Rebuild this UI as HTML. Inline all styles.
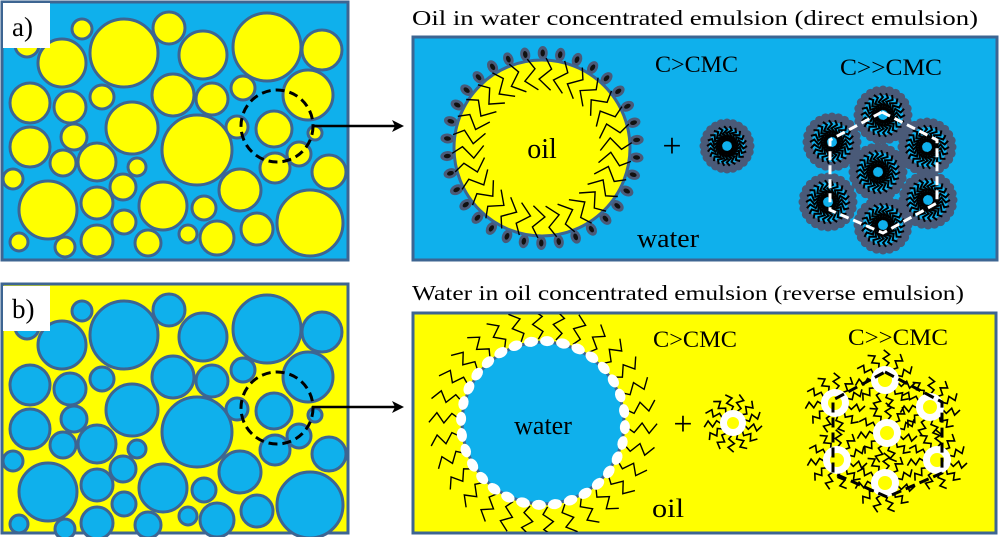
<!DOCTYPE html>
<html><head><meta charset="utf-8"><style>
html,body{margin:0;padding:0;background:#fff;width:1000px;height:537px;overflow:hidden}
svg{display:block}
text{font-family:"Liberation Serif","Times New Roman",serif;fill:#000}
</style></head><body>
<svg id="s" width="1000" height="537" viewBox="0 0 1000 537" xmlns="http://www.w3.org/2000/svg">
<defs>
<clipPath id="c1"><rect x="3" y="3" width="344" height="256"/></clipPath>
<g id="circ" stroke="#3d6592" stroke-width="3">
<circle cx="27" cy="45" r="12"/><circle cx="82" cy="29" r="10"/><circle cx="62" cy="63" r="24"/>
<circle cx="124" cy="53" r="34"/><circle cx="169" cy="28" r="16"/><circle cx="203" cy="55" r="24"/>
<circle cx="267" cy="47" r="34"/><circle cx="322" cy="50" r="20"/><circle cx="30" cy="103" r="20"/>
<circle cx="70" cy="107" r="16"/><circle cx="102" cy="97" r="12"/><circle cx="132" cy="128" r="26"/>
<circle cx="173" cy="95" r="21"/><circle cx="212" cy="99" r="16"/><circle cx="243" cy="88" r="12"/>
<circle cx="308" cy="95" r="25"/><circle cx="30" cy="147" r="20"/><circle cx="74" cy="137" r="13"/>
<circle cx="63" cy="163" r="13"/><circle cx="97" cy="162" r="19"/><circle cx="137" cy="167" r="9"/>
<circle cx="197" cy="150" r="35"/><circle cx="237" cy="127" r="11"/><circle cx="274" cy="129" r="18"/>
<circle cx="315" cy="133" r="7"/><circle cx="299" cy="154" r="12"/><circle cx="275" cy="168" r="15"/>
<circle cx="329" cy="172" r="17"/><circle cx="13" cy="179" r="10"/><circle cx="48" cy="210" r="29"/>
<circle cx="97" cy="203" r="16"/><circle cx="123" cy="187" r="13"/><circle cx="124" cy="222" r="12"/>
<circle cx="163" cy="206" r="24"/><circle cx="204" cy="208" r="12"/><circle cx="240" cy="190" r="21"/>
<circle cx="310" cy="223" r="33"/><circle cx="19" cy="242" r="9"/><circle cx="65" cy="247" r="10"/>
<circle cx="97" cy="241" r="16"/><circle cx="148" cy="243" r="13"/><circle cx="188" cy="234" r="9"/>
<circle cx="217" cy="238" r="17"/><circle cx="257" cy="229" r="16"/>
</g>
</defs>
<rect x="2" y="2" width="346" height="258" fill="#0fb0ec" stroke="#3d6592" stroke-width="3"/>
<g clip-path="url(#c1)"><use href="#circ" fill="#ffff00"/></g>
<rect x="3" y="3" width="47" height="45" fill="#fff"/>
<text x="12" y="36" font-size="27">a)</text>
<circle cx="277" cy="126" r="36" fill="none" stroke="#000" stroke-width="3" stroke-dasharray="9,5"/>
<line x1="313" y1="126" x2="396" y2="126" stroke="#000" stroke-width="2.5"/>
<polygon points="404,126 392,120 395,126 392,132" fill="#000"/>
<rect x="2" y="284" width="346" height="249" fill="#ffff00" stroke="#3d6592" stroke-width="3"/>
<g transform="translate(0,282)"><g clip-path="url(#c1)"><use href="#circ" fill="#0fb0ec"/></g></g>
<rect x="3" y="286" width="47" height="45" fill="#fff"/>
<text x="12" y="318" font-size="27">b)</text>
<circle cx="277" cy="408" r="36" fill="none" stroke="#000" stroke-width="3" stroke-dasharray="9,5"/>
<line x1="312" y1="407" x2="396" y2="407" stroke="#000" stroke-width="2.5"/>
<polygon points="404,407 392,401 395,407 392,413" fill="#000"/>

<text x="412" y="25" font-size="21" textLength="566" lengthAdjust="spacingAndGlyphs">Oil in water concentrated emulsion (direct emulsion)</text>
<text x="412" y="300" font-size="21" textLength="552" lengthAdjust="spacingAndGlyphs">Water in oil concentrated emulsion (reverse emulsion)</text>

<rect x="413" y="37" width="584" height="223" fill="#0fb0ec" stroke="#3d6592" stroke-width="3"/>
<rect x="413" y="313" width="583" height="220" fill="#ffff00" stroke="#3d6592" stroke-width="3"/>
<clipPath id="cb"><rect x="414" y="314" width="581" height="218"/></clipPath>

<g id="topdeco"></g>
<circle cx="542" cy="148" r="88" fill="#ffff00" stroke="#3d6592" stroke-width="3"/>
<g id="topdeco2"></g>
<text x="542" y="158" font-size="28" text-anchor="middle">oil</text>
<text x="672" y="157" font-size="34" text-anchor="middle">+</text>
<text x="655" y="72" font-size="23" textLength="83" lengthAdjust="spacingAndGlyphs">C&gt;CMC</text>
<text x="840" y="75" font-size="23" textLength="102" lengthAdjust="spacingAndGlyphs">C&gt;&gt;CMC</text>
<text x="637" y="247" font-size="26" textLength="62" lengthAdjust="spacingAndGlyphs">water</text>

<g id="botdeco" clip-path="url(#cb)"></g>
<circle cx="543" cy="423" r="81" fill="#0fb0ec" stroke="#3d6592" stroke-width="3"/>
<g id="botdeco2"></g>
<text x="543" y="434" font-size="26" text-anchor="middle">water</text>
<text x="683" y="435" font-size="34" text-anchor="middle">+</text>
<text x="653" y="347" font-size="23" textLength="84" lengthAdjust="spacingAndGlyphs">C&gt;CMC</text>
<text x="848" y="345" font-size="23" textLength="100" lengthAdjust="spacingAndGlyphs">C&gt;&gt;CMC</text>
<text x="652" y="517" font-size="26" textLength="32" lengthAdjust="spacingAndGlyphs">oil</text>
<g id="hexdeco"></g>
</svg>
<script>
var NS="http://www.w3.org/2000/svg";
function el(p,t,a){var e=document.createElementNS(NS,t);for(var k in a)e.setAttribute(k,a[k]);p.appendChild(e);return e;}
function zig(cx,cy,ang,r1,r2,n,amp){var pts=[];for(var i=0;i<=n;i++){var r=r1+(r2-r1)*i/n;var o=(i%2?amp:-amp)*(i==0?0:1);var x=cx+r*Math.cos(ang)-o*Math.sin(ang);var y=cy+r*Math.sin(ang)+o*Math.cos(ang);pts.push(x.toFixed(1)+","+y.toFixed(1));}return pts.join(" ");}
var g1=document.getElementById("topdeco"),g1b=document.getElementById("topdeco2");
for(var i=0;i<34;i++){var a=i/34*2*Math.PI+0.1;var x=542+95*Math.cos(a),y=148+95*Math.sin(a);var d=a*180/Math.PI;
el(g1,"ellipse",{cx:x,cy:y,rx:7,ry:5,fill:"#4a5a78",transform:"rotate("+d+" "+x+" "+y+")"});
el(g1,"ellipse",{cx:x,cy:y,rx:3.5,ry:2.2,fill:"#111",transform:"rotate("+d+" "+x+" "+y+")"});}
for(var i=0;i<30;i++){var a=i/30*2*Math.PI+0.15;el(g1b,"polyline",{points:zig(542,148,a,90,58,3,6),fill:"none",stroke:"#000","stroke-width":1.4});}
function mic(g,cx,cy,R){for(var i=0;i<24;i++){var a=i/24*2*Math.PI;el(g,"circle",{cx:cx+R*Math.cos(a),cy:cy+R*Math.sin(a),r:4.5,fill:"#4a5a78"});}
el(g,"circle",{cx:cx,cy:cy,r:R-1,fill:"#4a5a78"});el(g,"circle",{cx:cx,cy:cy,r:R-5,fill:"#0fb0ec"});
for(var i=0;i<22;i++){var a=i/22*2*Math.PI;el(g,"polyline",{points:zig(cx,cy,a,R-3,5,4,2.5),fill:"none",stroke:"#000","stroke-width":2});}}
mic(g1b,727,146,23);
var hx=document.getElementById("hexdeco");
[[883,115],[832,142],[927,147],[878,172],[828,202],[928,200],[883,225]].forEach(function(c){mic(hx,c[0],c[1],25);});
el(hx,"polygon",{points:"882,112 937,140 937,203 883,233 830,210 830,140",fill:"none",stroke:"#fff","stroke-width":3,"stroke-dasharray":"9,5"});
var g2=document.getElementById("botdeco"),g2b=document.getElementById("botdeco2");
for(var i=0;i<30;i++){var a=i/30*2*Math.PI+0.05;el(g2,"polyline",{points:zig(543,423,a,84,114,4,5),fill:"none",stroke:"#000","stroke-width":1.4});}
for(var i=0;i<32;i++){var a=i/32*2*Math.PI+0.05;var x=543+82*Math.cos(a),y=423+82*Math.sin(a);var d=a*180/Math.PI;
el(g2b,"ellipse",{cx:x,cy:y,rx:5,ry:7,fill:"#fff",transform:"rotate("+d+" "+x+" "+y+")"});}
function rmic(g,cx,cy,R,n){for(var i=0;i<n;i++){var a=i/n*2*Math.PI+0.2;el(g,"polyline",{points:zig(cx,cy,a,R,R+17,4,3),fill:"none",stroke:"#000","stroke-width":1.6});}
el(g,"circle",{cx:cx,cy:cy,r:R+1,fill:"#fff"});el(g,"circle",{cx:cx,cy:cy,r:R-6,fill:"#ffff00"});}
rmic(g2b,733,423,12,13);
[[885,380],[835,403],[930,407],[887,433],[837,460],[937,460],[885,483]].forEach(function(c){rmic(hx,c[0],c[1],13,11);});
el(hx,"polygon",{points:"885,372 942,402 942,473 887,497 833,473 833,400",fill:"none",stroke:"#000","stroke-width":3,"stroke-dasharray":"10,5"});
</script>
</body></html>
